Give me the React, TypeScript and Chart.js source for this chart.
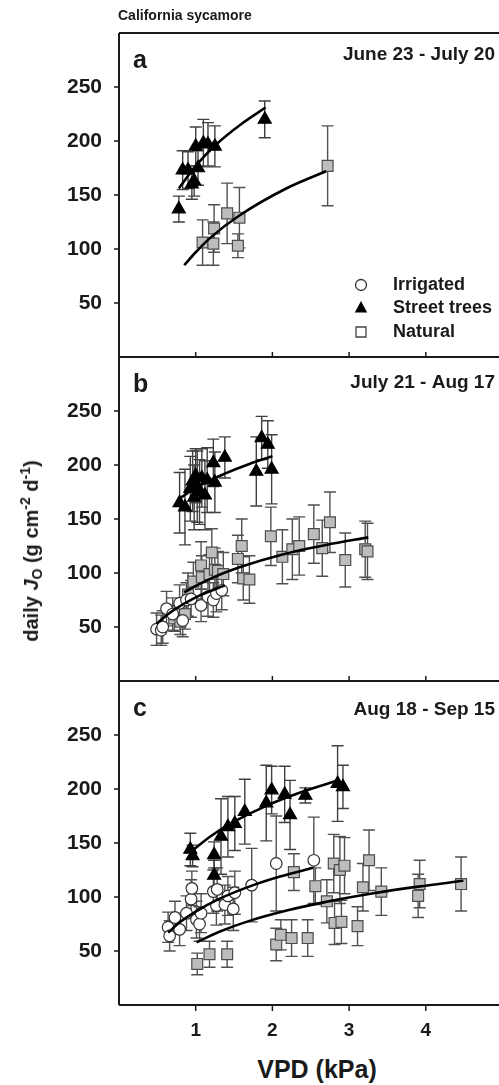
import React, { useEffect, useRef } from "react";
import { Chart, registerables } from "chart.js";

Chart.register(...registerables);

const FONT = '"Liberation Sans", Arial, Helvetica, sans-serif';

// ---------- tick / label text ----------
const xTickValues = [1, 2, 3, 4];
const yTickValues = [50, 100, 150, 200, 250];
const panelLetters = ["a", "b", "c"];
const periodLabels = ["June 23 - July 20", "July 21 - Aug 17", "Aug 18 - Sep 15"];
const legendLabels = ["Irrigated", "Street trees", "Natural"];

// ---------- panel a : June 23 - July 20 ----------
const aStreetVpd = [0.78, 0.83, 0.9, 0.95, 0.98, 1.03, 1.0, 1.1, 1.16, 1.25, 1.9];
const aStreetJo = [137, 173, 173, 160, 163, 175, 195, 198, 197, 195, 220];
const aStreetErr = [12, 18, 17, 14, 14, 16, 18, 22, 20, 19, 17];
const aNatVpd = [1.09, 1.23, 1.24, 1.41, 1.57, 1.55, 2.72];
const aNatJo = [106, 105, 119, 133, 129, 103, 177];
const aNatErr = [21, 20, 22, 28, 28, 11, 37];
const aStreetFitVpd = [0.78, 1.0, 1.27, 1.6, 1.91];
const aStreetFitJo = [156, 177, 197, 216, 231];
const aNatFitVpd = [0.85, 1.0, 1.2, 1.57, 2.18, 2.7];
const aNatFitJo = [85, 97, 111, 131, 156, 172];

// ---------- panel b : July 21 - Aug 17 ----------
const bStreetVpd = [0.79, 0.86, 0.93, 0.96, 0.98, 1.0, 1.02, 1.05, 1.08, 1.12, 1.15, 1.23, 1.25, 1.38, 1.79, 1.86, 1.94, 1.99];
const bStreetJo = [165, 161, 178, 185, 170, 190, 180, 175, 188, 172, 186, 202, 184, 207, 194, 225, 219, 196];
const bStreetErr = [28, 35, 30, 28, 30, 25, 33, 30, 27, 32, 30, 22, 28, 19, 32, 20, 22, 32];
const bIrrVpd = [0.49, 0.55, 0.57, 0.62, 0.7, 0.79, 0.83, 0.88, 0.94, 1.07, 1.16, 1.23, 1.27, 1.34];
const bIrrJo = [48, 47, 50, 67, 62, 72, 56, 75, 76, 70, 78, 75, 81, 84];
const bIrrErr = [15, 14, 15, 16, 15, 17, 15, 16, 17, 15, 18, 16, 17, 18];
const bNatVpd = [0.72, 0.8, 0.86, 0.9, 0.97, 1.07, 1.08, 1.18, 1.21, 1.25, 1.29, 1.36, 1.55, 1.6, 1.62, 1.7, 1.98, 2.13, 2.26, 2.35, 2.54, 2.65, 2.75, 2.95, 3.21, 3.24];
const bNatJo = [58, 55, 62, 80, 92, 107, 96, 99, 119, 103, 102, 99, 113, 125, 95, 94, 134, 115, 122, 125, 136, 123, 147, 112, 122, 120];
const bNatErr = [12, 12, 14, 20, 18, 22, 20, 18, 22, 20, 18, 20, 22, 25, 20, 22, 27, 25, 28, 27, 27, 26, 28, 25, 26, 26];
const bStreetFitVpd = [0.81, 1.0, 1.38, 1.7, 2.0];
const bStreetFitJo = [170, 179, 192, 201, 208];
const bIrrFitVpd = [0.49, 0.7, 1.0, 1.38];
const bIrrFitJo = [53, 65, 77.5, 88.5];
const bNatFitVpd = [0.85, 1.0, 1.23, 1.6, 2.12, 2.7, 3.25];
const bNatFitJo = [82, 88, 96, 106, 117, 126, 133];

// ---------- panel c : Aug 18 - Sep 15 ----------
const cStreetVpd = [0.93, 0.96, 1.24, 1.24, 1.33, 1.42, 1.51, 1.64, 1.92, 1.99, 2.16, 2.23, 2.43, 2.85, 2.92];
const cStreetJo = [144, 138, 139, 120, 156, 165, 168, 179, 187, 199, 195, 176, 194, 205, 202];
const cStreetErr = [15, 10, 12, 14, 35, 28, 25, 30, 35, 22, 26, 32, 7, 35, 20];
const cIrrVpd = [0.64, 0.66, 0.73, 0.79, 0.88, 0.94, 0.95, 1.01, 1.05, 1.07, 1.23, 1.27, 1.28, 1.38, 1.42, 1.49, 1.51, 1.73, 2.05, 2.54];
const cIrrJo = [72, 64, 81, 70, 85, 98, 108, 79, 75, 85, 105, 92, 107, 93, 101, 89, 104, 111, 131, 134];
const cIrrErr = [14, 14, 15, 15, 16, 18, 16, 17, 16, 18, 20, 18, 20, 18, 18, 20, 20, 34, 44, 40];
const cNatVpd = [1.02, 1.18, 1.41, 2.05, 2.11, 2.25, 2.46, 2.28, 2.56, 2.71, 2.8, 2.81, 2.88, 2.9, 2.94, 3.11, 3.18, 3.26, 3.42, 3.9, 3.92, 4.46];
const cNatJo = [38, 47, 47, 56, 65, 62, 62, 123, 110, 96, 131, 76, 125, 77, 129, 73, 109, 134, 105, 101, 112, 112];
const cNatErr = [10, 12, 12, 15, 14, 17, 17, 17, 17, 20, 27, 20, 31, 20, 26, 18, 22, 28, 22, 20, 22, 25];
const cStreetFitVpd = [0.94, 1.2, 1.5, 1.92, 2.4, 2.86];
const cStreetFitJo = [142, 156.5, 169.7, 184.4, 197.6, 208];
const cIrrFitVpd = [0.64, 0.8, 1.0, 1.3, 1.75, 2.1, 2.53];
const cIrrFitJo = [67, 77, 86.5, 98, 111, 119, 127];
const cNatFitVpd = [1.01, 1.3, 1.7, 2.2, 2.7, 3.3, 3.9, 4.49];
const cNatFitJo = [58, 67.6, 77.9, 87.7, 95.5, 103.2, 109.6, 115];

// ---------- styles ----------
const STYLE: Record<string, any> = {
  irr: { pointStyle: "circle", radius: 5.8, bg: "#ffffff", border: "#333333", err: "#505050" },
  street: { pointStyle: "triangle", radius: 7.5, bg: "#000000", border: "#000000", err: "#404040" },
  nat: { pointStyle: "rect", radius: 7.7, bg: "#bdbdbd", border: "#4d4d4d", err: "#505050" },
};

function scatterSet(kind: string, vpd: number[], jo: number[], err: number[]) {
  const s = STYLE[kind];
  return {
    label: kind,
    data: vpd.map((x, i) => ({ x, y: jo[i] })),
    errorBars: err,
    errorColor: s.err,
    showLine: false,
    pointStyle: s.pointStyle,
    pointRadius: s.radius,
    pointHoverRadius: s.radius,
    pointBackgroundColor: s.bg,
    pointBorderColor: s.border,
    pointBorderWidth: 1.2,
  };
}

function fitSet(vpd: number[], jo: number[]) {
  return {
    label: "fit",
    data: vpd.map((x, i) => ({ x, y: jo[i] })),
    showLine: true,
    borderColor: "#000000",
    borderWidth: 2.6,
    pointRadius: 0,
    pointHoverRadius: 0,
    cubicInterpolationMode: "monotone",
    fill: false,
  };
}

const panels = [
  {
    datasets: [
      fitSet(aStreetFitVpd, aStreetFitJo),
      fitSet(aNatFitVpd, aNatFitJo),
      scatterSet("street", aStreetVpd, aStreetJo, aStreetErr),
      scatterSet("nat", aNatVpd, aNatJo, aNatErr),
    ],
    dateY: 27,
  },
  {
    datasets: [
      fitSet(bStreetFitVpd, bStreetFitJo),
      fitSet(bIrrFitVpd, bIrrFitJo),
      fitSet(bNatFitVpd, bNatFitJo),
      scatterSet("street", bStreetVpd, bStreetJo, bStreetErr),
      scatterSet("irr", bIrrVpd, bIrrJo, bIrrErr),
      scatterSet("nat", bNatVpd, bNatJo, bNatErr),
    ],
    dateY: 31,
  },
  {
    datasets: [
      fitSet(cStreetFitVpd, cStreetFitJo),
      fitSet(cIrrFitVpd, cIrrFitJo),
      fitSet(cNatFitVpd, cNatFitJo),
      scatterSet("street", cStreetVpd, cStreetJo, cStreetErr),
      scatterSet("irr", cIrrVpd, cIrrJo, cIrrErr),
      scatterSet("nat", cNatVpd, cNatJo, cNatErr),
    ],
    dateY: 34,
  },
];

// layout (pixels)
const PANEL_TOPS = [33, 357, 681];
const PANEL_H = 324;
const TICK_PAD = 17;
const TICK_LH = 20;
const PAD_V = TICK_PAD + TICK_LH / 2; // padding chart.js reserves above/below the y axis
const AXIS_W = 119;
const CANVAS_W = 520;
const PAD_R = 17.5;
const XAXIS_H = 40;

function makePlugin(idx: number, isBottom: boolean) {
  return {
    id: "deco" + idx,
    beforeDatasetsDraw(chart: any) {
      const { ctx, chartArea } = chart;
      const xs = chart.scales.x;
      const ys = chart.scales.y;
      ctx.save();
      ctx.beginPath();
      ctx.rect(chartArea.left, chartArea.top, chartArea.right - chartArea.left, chartArea.bottom - chartArea.top);
      ctx.clip();
      ctx.lineWidth = 1.4;
      chart.data.datasets.forEach((ds: any) => {
        if (!ds.errorBars) return;
        ctx.strokeStyle = ds.errorColor;
        ds.data.forEach((p: any, i: number) => {
          const e = ds.errorBars[i];
          const x = xs.getPixelForValue(p.x);
          const y1 = ys.getPixelForValue(p.y + e);
          const y2 = ys.getPixelForValue(p.y - e);
          ctx.beginPath();
          ctx.moveTo(x, y1);
          ctx.lineTo(x, y2);
          ctx.moveTo(x - 6, y1);
          ctx.lineTo(x + 6, y1);
          ctx.moveTo(x - 6, y2);
          ctx.lineTo(x + 6, y2);
          ctx.stroke();
        });
      });
      ctx.restore();
    },
    afterDraw(chart: any) {
      const { ctx, chartArea } = chart;
      const xs = chart.scales.x;
      const ys = chart.scales.y;
      const { left, top, right, bottom } = chartArea;
      ctx.save();
      ctx.strokeStyle = "#1a1a1a";
      ctx.lineWidth = 2;
      ctx.beginPath();
      ctx.moveTo(left, top);
      ctx.lineTo(right + 5, top);
      ctx.moveTo(left, top);
      ctx.lineTo(left, bottom);
      ctx.moveTo(left, bottom);
      ctx.lineTo(right + 5, bottom);
      ctx.stroke();
      ctx.lineWidth = 1.5;
      ctx.beginPath();
      yTickValues.forEach((v) => {
        const y = ys.getPixelForValue(v);
        ctx.moveTo(left - 5, y);
        ctx.lineTo(left, y);
      });
      xTickValues.forEach((v) => {
        const x = xs.getPixelForValue(v);
        ctx.moveTo(x, bottom);
        ctx.lineTo(x, isBottom ? bottom + 6 : bottom - 5);
      });
      ctx.stroke();

      ctx.fillStyle = "#1a1a1a";
      ctx.textBaseline = "alphabetic";
      ctx.textAlign = "left";
      ctx.font = `bold 25px ${FONT}`;
      ctx.fillText(panelLetters[idx], left + 14, top + 35);
      ctx.textAlign = "right";
      ctx.font = `bold 19px ${FONT}`;
      ctx.fillText(periodLabels[idx], 495, top + panels[idx].dateY);

      if (idx === 0) {
        const sx = left + 242;
        const tx = left + 274;
        const rows = [252, 275, 299];
        ctx.font = `bold 18px ${FONT}`;
        ctx.textAlign = "left";
        ctx.textBaseline = "middle";
        legendLabels.forEach((lab, i) => {
          ctx.fillStyle = "#1a1a1a";
          ctx.fillText(lab, tx, top + rows[i]);
        });
        let y = top + rows[0];
        ctx.lineWidth = 1.3;
        ctx.strokeStyle = "#333";
        ctx.fillStyle = "#fff";
        ctx.beginPath();
        ctx.arc(sx, y, 5.5, 0, Math.PI * 2);
        ctx.fill();
        ctx.stroke();
        y = top + rows[1];
        ctx.fillStyle = "#000";
        ctx.beginPath();
        ctx.moveTo(sx, y - 7);
        ctx.lineTo(sx + 6.2, y + 4.5);
        ctx.lineTo(sx - 6.2, y + 4.5);
        ctx.closePath();
        ctx.fill();
        y = top + rows[2];
        ctx.strokeStyle = "#444";
        ctx.fillStyle = "#fff";
        ctx.beginPath();
        ctx.rect(sx - 5, y - 5, 10, 10);
        ctx.fill();
        ctx.stroke();
      }
      ctx.restore();
    },
  };
}

const canvasH = (idx: number) => PAD_V + PANEL_H + (idx === 2 ? XAXIS_H : PAD_V);

export default function App() {
  const refs = [useRef<HTMLCanvasElement>(null), useRef<HTMLCanvasElement>(null), useRef<HTMLCanvasElement>(null)];

  useEffect(() => {
    const charts: Chart[] = [];
    panels.forEach((p, idx) => {
      const isBottom = idx === 2;
      const canvas = refs[idx].current;
      if (!canvas) return;
      const cfg: any = {
        type: "scatter",
        data: { datasets: p.datasets },
        options: {
          animation: false,
          responsive: false,
          maintainAspectRatio: false,
          events: [],
          layout: { padding: { top: 0, bottom: 0, left: 0, right: PAD_R } },
          plugins: { legend: { display: false }, tooltip: { enabled: false } },
          scales: {
            x: {
              type: "linear",
              min: 0,
              max: 5,
              display: isBottom,
              grid: { display: false, drawTicks: false },
              border: { display: false },
              ticks: {
                stepSize: 1,
                padding: 14,
                color: "#1a1a1a",
                font: { family: FONT, size: 19, weight: "bold" },
                callback: (v: any) => (xTickValues.includes(Number(v)) ? String(v) : ""),
              },
              afterFit: (s: any) => {
                s.height = isBottom ? XAXIS_H : 0;
              },
            },
            y: {
              type: "linear",
              min: 0,
              max: 300,
              grid: { display: false, drawTicks: false },
              border: { display: false },
              ticks: {
                stepSize: 50,
                padding: TICK_PAD,
                color: "#1a1a1a",
                font: { family: FONT, size: 21, weight: "bold", lineHeight: TICK_LH + "px" },
                callback: (v: any) => (yTickValues.includes(Number(v)) ? String(v) : ""),
              },
              afterFit: (s: any) => {
                s.width = AXIS_W;
              },
            },
          },
        },
        plugins: [makePlugin(idx, isBottom)],
      };
      charts.push(new Chart(canvas, cfg));
    });
    return () => charts.forEach((c) => c.destroy());
  }, []);

  return (
    <div
      style={{
        position: "absolute",
        left: 0,
        top: 0,
        width: 499,
        height: 1085,
        overflow: "hidden",
        background: "#ffffff",
        fontFamily: FONT,
        color: "#1a1a1a",
      }}
    >
      {refs.map((r, idx) => (
        <canvas
          key={idx}
          ref={r}
          width={CANVAS_W}
          height={canvasH(idx)}
          style={{ position: "absolute", left: 0, top: PANEL_TOPS[idx] - PAD_V, width: CANVAS_W, height: canvasH(idx) }}
        />
      ))}
      <div
        style={{
          position: "absolute",
          left: 118,
          top: 7,
          fontSize: 14,
          fontWeight: "bold",
          lineHeight: "16px",
          whiteSpace: "nowrap",
        }}
      >
        California sycamore
      </div>
      <div
        style={{
          position: "absolute",
          left: 317,
          top: 1069,
          transform: "translate(-50%, -50%)",
          fontSize: 25,
          fontWeight: "bold",
          lineHeight: "28px",
          whiteSpace: "nowrap",
        }}
      >
        VPD (kPa)
      </div>
      <div
        style={{
          position: "absolute",
          left: 31,
          top: 551,
          transform: "translate(-50%, -50%) rotate(-90deg)",
          fontSize: 20,
          fontWeight: "bold",
          lineHeight: "24px",
          whiteSpace: "nowrap",
        }}
      >
        daily <i>J</i>
        <sub style={{ fontSize: "0.7em", verticalAlign: "-0.3em", lineHeight: 0 }}>O</sub> (g cm
        <sup style={{ fontSize: "0.7em", verticalAlign: "0.6em", lineHeight: 0 }}>-2</sup> d
        <sup style={{ fontSize: "0.7em", verticalAlign: "0.6em", lineHeight: 0 }}>-1</sup>)
      </div>
    </div>
  );
}
